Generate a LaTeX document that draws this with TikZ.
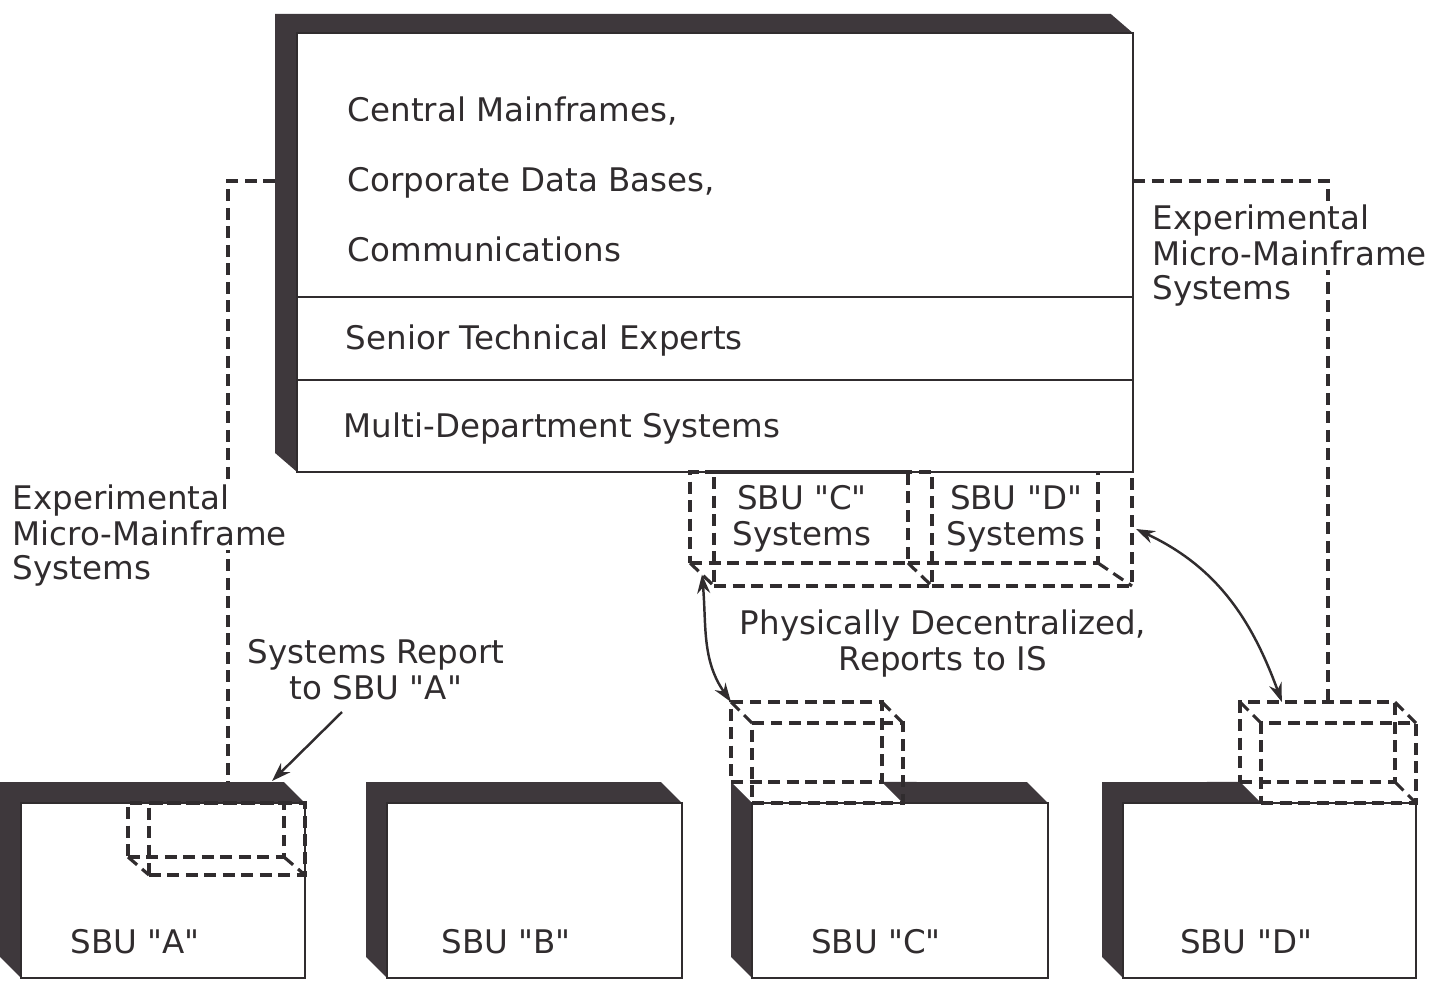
\documentclass[tikz,border=0pt]{standalone}
\usepackage{fontspec}
\setmainfont{DejaVu Sans}[Ligatures=TeXOff]
\usepackage{tikz}
\usetikzlibrary{positioning,arrows.meta,calc,backgrounds}

\definecolor{ink}{RGB}{48,44,46}
\definecolor{boxdark}{RGB}{62,56,60}
\newcommand{\lblfont}{\fontsize{18.5}{20.5}\selectfont}

\begin{document}
\begin{tikzpicture}[
  x=0.02cm, y=-0.02cm,
  face/.style={rectangle, draw=ink, line width=1.4pt, fill=white, outer sep=0pt, inner sep=0pt, anchor=north west},
  cubebox/.style={rectangle, draw=ink, line width=1.8pt, dash pattern=on 0.24cm off 0.13cm, outer sep=0pt, inner sep=0pt, anchor=north west},
  dashline/.style={draw=ink, line width=1.8pt, dash pattern=on 0.24cm off 0.13cm},
  lbl/.style={font=\lblfont, text=ink, inner sep=2pt},
  arrow/.style={-{Stealth[length=0.38cm,width=0.26cm]}, draw=ink, line width=1.4pt},
  dblarrow/.style={{Stealth[length=0.38cm,width=0.26cm]}-{Stealth[length=0.38cm,width=0.26cm]}, draw=ink, line width=1.4pt}
  ]
  \useasboundingbox (0,0) rectangle (1432,980);
  % central IS box
  \node[face, minimum width=16.72cm, minimum height=5.28cm] (core) at (297,33) {};
  \node[face, minimum width=16.72cm, minimum height=1.66cm, below=0pt of core] (experts) {};
  \node[face, minimum width=16.72cm, minimum height=1.84cm, below=0pt of experts] (multi) {};
  \node[lbl, anchor=base west] (cmf) at (344,121) {Central Mainframes,};
  \node[lbl, anchor=base west] (cdb) at (344,191) {Corporate Data Bases,};
  \node[lbl, anchor=base west] (comm) at (344,261) {Communications};
  \node[lbl, anchor=base west] (ste) at (342,349) {Senior Technical Experts};
  \node[lbl, anchor=base west] (mds) at (340,437) {Multi-Department Systems};
  % business units
  \node[face, minimum width=5.68cm, minimum height=3.5cm] (sbuA) at (21,803) {};
  \node[face, minimum width=5.9cm, minimum height=3.5cm] (sbuB) at (387,803) {};
  \node[face, minimum width=5.92cm, minimum height=3.5cm] (sbuC) at (752,803) {};
  \node[face, minimum width=5.86cm, minimum height=3.5cm] (sbuD) at (1123,803) {};
  \node[lbl, anchor=base] (labA) at (135,953) {SBU "A"};
  \node[lbl, anchor=base] (labB) at (506,953) {SBU "B"};
  \node[lbl, anchor=base] (labC) at (876,953) {SBU "C"};
  \node[lbl, anchor=base] (labD) at (1246,953) {SBU "D"};
  % unit systems kept under IS
  \node[cubebox, minimum width=4.36cm, minimum height=1.82cm] (csys) at (690,472) {};
  \node[cubebox, minimum width=4.36cm, minimum height=2.28cm] (csysb) at (714,472) {};
  \node[cubebox, draw=none, minimum width=3.8cm, minimum height=1.82cm] (dsys) at (908,472) {};
  \node[cubebox, draw=none, minimum width=4.0cm, minimum height=2.28cm] (dsysb) at (932,472) {};
  \draw[dashline] (dsys.south west) -- (dsys.south east) -- (dsys.north east);
  \draw[dashline] (dsysb.south west) -- (dsysb.south east) -- (dsysb.north east);
  \draw[dashline] (csys.south west) -- (csysb.south west);
  \draw[dashline] (csys.south east) -- (csysb.south east);
  \draw[dashline] (dsys.south east) -- (dsysb.south east);
  \node[lbl, align=center] (csystxt) at (802,519) {SBU "C"\\Systems};
  \node[lbl, align=center] (dsystxt) at (1016,519) {SBU "D"\\Systems};
  % systems sitting on the units
  \node[cubebox, minimum width=3.12cm, minimum height=1.08cm] (acube) at (128,803) {};
  \node[cubebox, minimum width=3.12cm, minimum height=1.44cm] (acubeb) at (149,803) {};
  \draw[dashline] (acube.south west) -- (acubeb.south west);
  \draw[dashline] (acube.south east) -- (acubeb.south east);
  \node[cubebox, minimum width=3.02cm, minimum height=1.6cm] (ccube) at (731,702) {};
  \node[cubebox, minimum width=3.02cm, minimum height=1.6cm] (ccubeb) at (752,723) {};
  \draw[dashline] (ccube.north west) -- (ccubeb.north west);
  \draw[dashline] (ccube.north east) -- (ccubeb.north east);
  \node[cubebox, minimum width=3.1cm, minimum height=1.6cm] (dcube) at (1240,702) {};
  \node[cubebox, minimum width=3.1cm, minimum height=1.6cm] (dcubeb) at (1261,723) {};
  \draw[dashline] (dcube.north west) -- (dcubeb.north west);
  \draw[dashline] (dcube.north east) -- (dcubeb.north east);
  \draw[dashline] (dcube.south east) -- (dcubeb.south east);
  % experimental links
  \coordinate (mainL) at (275,181);
  \coordinate (aTop) at (228,782);
  \draw[dashline] (mainL) -| (aTop);
  \coordinate (mainR) at (1133,181);
  \coordinate (dTop) at (1328,702);
  \draw[dashline] (mainR) -| (dTop);
  \node[lbl, align=left, fill=white, anchor=north west] (expL) at (9,481) {Experimental\\Micro-Mainframe};
  \node[lbl, anchor=base west] (sysL) at (9,579) {Systems};
  \node[lbl, align=left, fill=white, anchor=north west] (expR) at (1149,201) {Experimental\\Micro-Mainframe};
  \node[lbl, anchor=base west] (sysR) at (1149,299) {Systems};
  % reporting
  \node[lbl, align=center] (decent) at (943,644) {Physically Decentralized,\\Reports to IS};
  \node[lbl, align=center] (rep) at (376,670) {Systems Report\\to SBU "A"};
  \coordinate (repTail) at (342,712);
  \coordinate (aTip) at (272,781);
  \draw[arrow] (repTail) -- (aTip);
  \coordinate (csysMid) at ($(csys.south west)!0.5!(csysb.south west)$);
  \draw[dblarrow] (csysMid) to[out=-85, in=125] (ccube.north west);
  \coordinate (dsysR) at ([xshift=0.08cm]dsysb.east);
  \coordinate (dcubeTop) at ($(dcube.north west)!0.27!(dcube.north east)$);
  \draw[dblarrow] (dsysR) to[out=-25, in=110] (dcubeTop);
  % dark sides
  \begin{scope}[on background layer]
    \fill[boxdark] ([shift={(-22,-19)}]multi.south west) -- ([shift={(-22,-19)}]core.north west) -- ([shift={(-22,-19)}]core.north east) -- (core.north east) -- (core.north west) -- (multi.south west) -- cycle;
    \fill[boxdark] ([shift={(-21,-21)}]sbuA.south west) -- ([shift={(-21,-21)}]sbuA.north west) -- ([shift={(-21,-21)}]sbuA.north east) -- (sbuA.north east) -- (sbuA.north west) -- (sbuA.south west) -- cycle;
    \fill[boxdark] ([shift={(-21,-21)}]sbuB.south west) -- ([shift={(-21,-21)}]sbuB.north west) -- ([shift={(-21,-21)}]sbuB.north east) -- (sbuB.north east) -- (sbuB.north west) -- (sbuB.south west) -- cycle;
    \fill[boxdark] ([shift={(-21,-21)}]sbuC.south west) -- ([shift={(-21,-21)}]sbuC.north west) -- (sbuC.north west) -- (sbuC.south west) -- cycle;
    \fill[boxdark] (ccube.south east) -- ([shift={(-21,-21)}]sbuC.north east) -- (sbuC.north east) -- (ccubeb.south east) -- cycle;
    \fill[boxdark] ([shift={(-21,-21)}]sbuD.south west) -- ([shift={(-21,-21)}]sbuD.north west) -- (dcube.south west) -- (dcubeb.south west) -- (sbuD.north west) -- (sbuD.south west) -- cycle;
  \end{scope}
\end{tikzpicture}
\end{document}
